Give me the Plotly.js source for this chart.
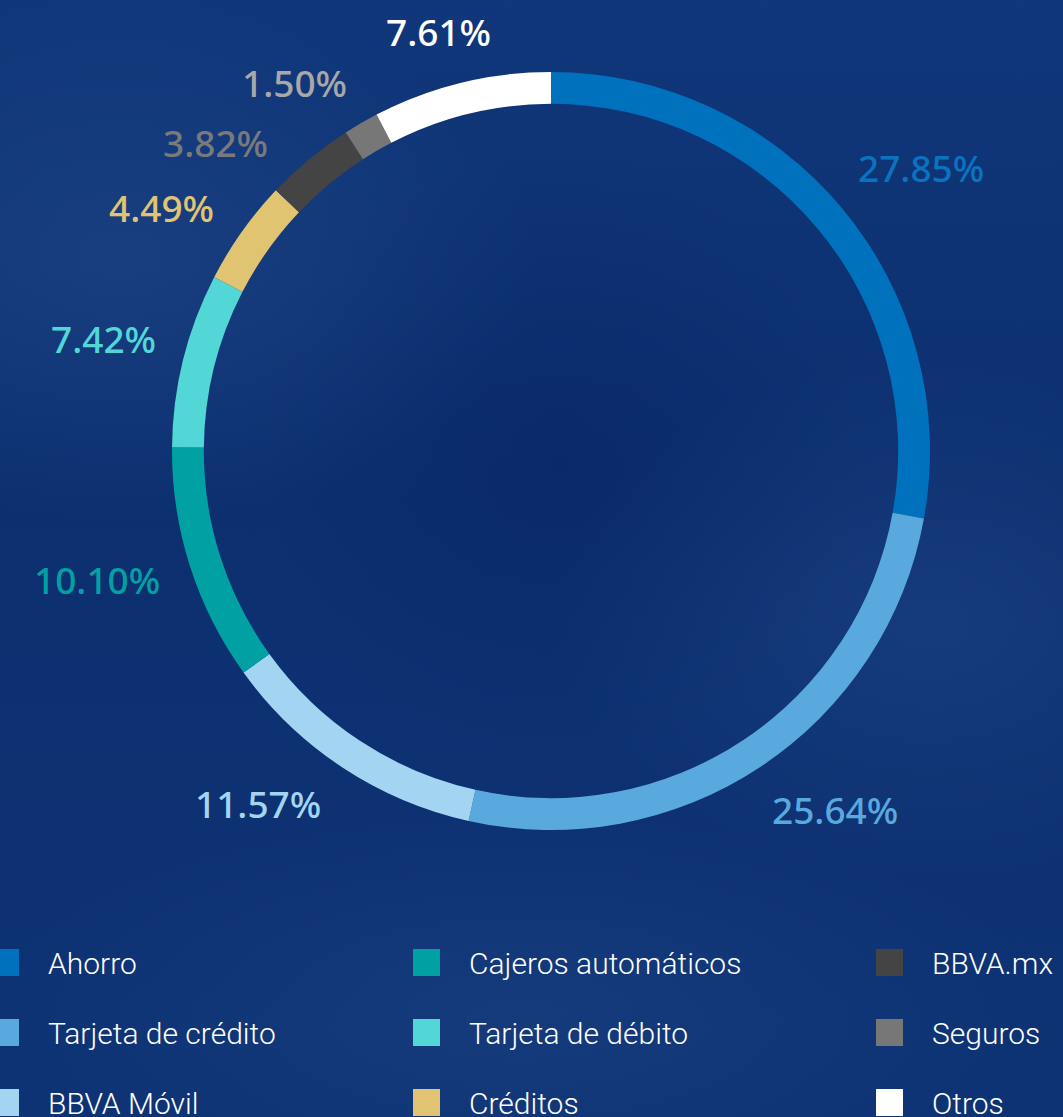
<!DOCTYPE html>
<html>
<head>
<meta charset="utf-8">
<script src="https://cdn.plot.ly/plotly-3.0.1.min.js"></script>
<style>
html, body { margin:0; padding:0; width:1063px; height:1117px; overflow:hidden; }
body {
  background:
    radial-gradient(ellipse 420px 260px at 120px 260px, rgba(45,85,150,0.35), rgba(45,85,150,0) 100%),
    radial-gradient(ellipse 380px 260px at 930px 620px, rgba(45,85,150,0.30), rgba(45,85,150,0) 100%),
    radial-gradient(ellipse 520px 200px at 520px 1010px, rgba(45,85,150,0.25), rgba(45,85,150,0) 100%),
    radial-gradient(ellipse 300px 300px at 560px 450px, rgba(5,30,95,0.35), rgba(5,30,95,0) 100%),
    linear-gradient(180deg, #10377a 0%, #0c2f70 45%, #0e3374 100%);
}
#chart { width:1063px; height:1117px; }
</style>
</head>
<body>
<div id="chart"></div>
<script>
// ---- data ----
const categories = ['Ahorro', 'Tarjeta de crédito', 'BBVA Móvil', 'Cajeros automáticos', 'Tarjeta de débito', 'Créditos', 'BBVA.mx', 'Seguros', 'Otros'];
const shares = [27.85, 25.64, 11.57, 10.10, 7.42, 4.49, 3.82, 1.50, 7.61];
const shareLabels = ['27.85%', '25.64%', '11.57%', '10.10%', '7.42%', '4.49%', '3.82%', '1.50%', '7.61%'];

// ---- styles ----
const sliceColors = ['#0071bc', '#5aa9de', '#a3d5f3', '#01a1a3', '#52d6d6', '#e0c472', '#444444', '#777777', '#ffffff'];
const labelColors = ['#0a73c0', '#5aa9de', '#a3d5f3', '#01a1a3', '#52d6d6', '#e0c472', '#7a7a7a', '#a8a8a8', '#ffffff'];
const labelAngleNudge = [2.4, -4.8, 6.3, 1.8, 0.2, -3.4, -7.7, -4.8, -1.3];

const W = 1063, H = 1117;
const CX = 551, CY = 451, R = 379;
const HOLE = 0.916;
const LABEL_GAP = 28;
const LABEL_FONT = 37;
const LABEL_WEIGHT = 500;
const labelFamily = '"Noto Sans", "Open Sans", sans-serif';

const legendColX = [-8, 413, 876];
const legendRowY = [962.5, 1032.5, 1102.5];
const SW = 27, TEXT_GAP = 27;

const px2x = p => p / W;
const py2y = p => 1 - p / H;

const ctx = document.createElement('canvas').getContext('2d');
ctx.font = LABEL_WEIGHT + ' ' + LABEL_FONT + 'px ' + labelFamily;

const total = shares.reduce((a, b) => a + b, 0);
const annotations = [];
let cum = 0;
shares.forEach((v, i) => {
  const mid = (cum + v / 2) / total * 360 + labelAngleNudge[i];
  cum += v;
  const t = mid * Math.PI / 180;
  const w = ctx.measureText(shareLabels[i]).width;
  const h = LABEL_FONT * 0.78;
  const r = R + LABEL_GAP + (w / 2) * Math.abs(Math.sin(t)) + (h / 2) * Math.abs(Math.cos(t));
  const x = CX + r * Math.sin(t);
  const y = CY - r * Math.cos(t);
  annotations.push({
    xref: 'paper', yref: 'paper', x: px2x(x), y: py2y(y),
    xanchor: 'center', yanchor: 'middle', showarrow: false,
    text: shareLabels[i],
    font: { family: labelFamily, size: LABEL_FONT, color: labelColors[i], weight: LABEL_WEIGHT }
  });
});

const shapes = [];
categories.forEach((c, i) => {
  const col = Math.floor(i / 3), row = i % 3;
  const x0 = legendColX[col], yc = legendRowY[row];
  shapes.push({
    type: 'rect', xref: 'paper', yref: 'paper',
    x0: px2x(x0), x1: px2x(x0 + SW), y0: py2y(yc + SW / 2), y1: py2y(yc - SW / 2),
    fillcolor: sliceColors[i], line: { width: 0 }, layer: 'above'
  });
  annotations.push({
    xref: 'paper', yref: 'paper', x: px2x(x0 + SW + TEXT_GAP), y: py2y(yc + 1),
    xanchor: 'left', yanchor: 'middle', showarrow: false,
    text: c,
    font: { family: 'Roboto, "Noto Sans", sans-serif', size: 30, color: '#ffffff', weight: 300 }
  });
});

const trace = {
  type: 'pie',
  labels: categories,
  values: shares,
  sort: false,
  direction: 'clockwise',
  rotation: 0,
  hole: HOLE,
  textinfo: 'none',
  hoverinfo: 'label+percent',
  marker: { colors: sliceColors, line: { width: 0 } },
  domain: { x: [px2x(CX - R), px2x(CX + R)], y: [py2y(CY + R), py2y(CY - R)] },
  showlegend: false
};

const layout = {
  width: W, height: H,
  margin: { l: 0, r: 0, t: 0, b: 0 },
  paper_bgcolor: 'rgba(0,0,0,0)',
  plot_bgcolor: 'rgba(0,0,0,0)',
  showlegend: false,
  annotations: annotations,
  shapes: shapes
};

Plotly.newPlot('chart', [trace], layout, { displayModeBar: false, staticPlot: true });
</script>
</body>
</html>
